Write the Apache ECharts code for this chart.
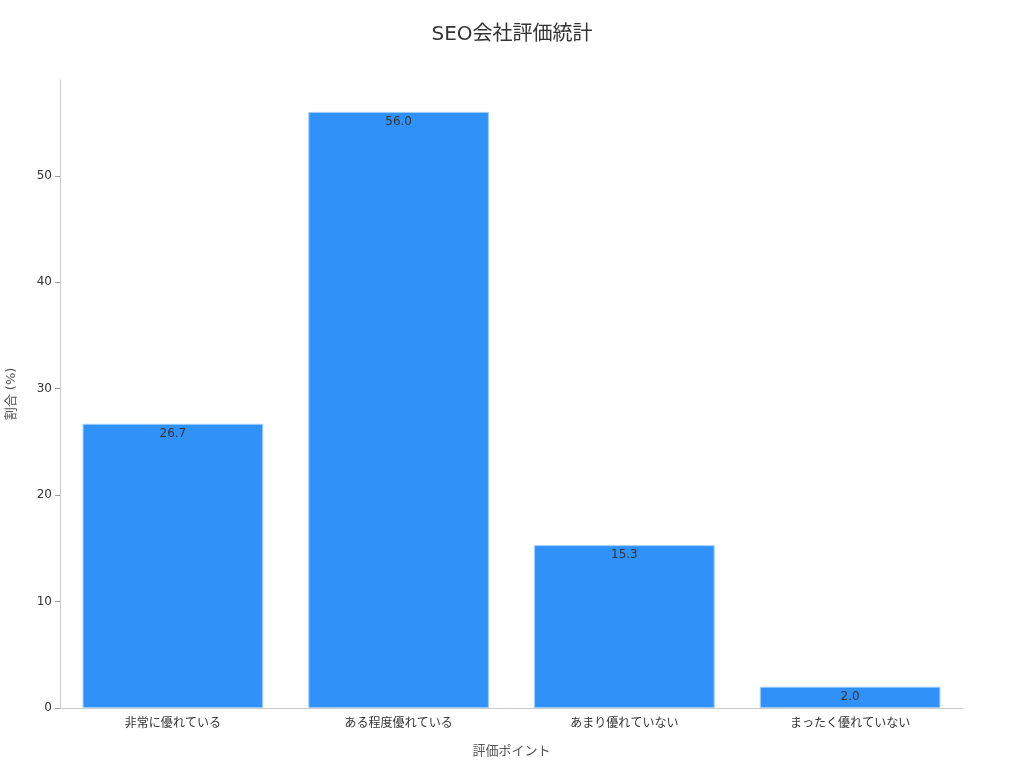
<!DOCTYPE html>
<html><head><meta charset="utf-8">
<script src="https://cdn.jsdelivr.net/npm/echarts@6/dist/echarts.min.js"></script>
<style>html,body{margin:0;padding:0;background:#fff}#c{width:1024px;height:768px}</style>
</head><body><div id="c"></div>
<script>
const categories = ['非常に優れている', 'ある程度優れている', 'あまり優れていない', 'まったく優れていない'];
const values = [26.7, 56.0, 15.3, 2.0];
const yTicks = [0, 10, 20, 30, 40, 50];
const font = 'DejaVu Sans, Noto Sans CJK JP, sans-serif';
const chart = echarts.init(document.getElementById('c'));
chart.setOption({
  backgroundColor: '#fff',
  textStyle: { fontFamily: font },
  title: { text: 'SEO会社評価統計', left: 'center', top: 20,
    textStyle: { fontSize: 20, fontWeight: 'normal', color: '#333', fontFamily: font } },
  grid: { left: 60, right: 61, top: 80, bottom: 60, containLabel: false, outerBoundsMode: 'none' },
  xAxis: {
    type: 'category', data: categories,
    name: '評価ポイント', nameLocation: 'middle', nameGap: 37,
    nameTextStyle: { fontSize: 13, color: '#555' },
    axisLine: { lineStyle: { color: '#ccc' } },
    axisTick: { alignWithLabel: true, lineStyle: { color: '#999' } },
    axisLabel: { color: '#333', fontSize: 12, margin: 10 }
  },
  yAxis: {
    type: 'value', min: 0, max: 59, interval: 10,
    name: '割合 (%)', nameLocation: 'middle', nameGap: 42,
    nameTextStyle: { fontSize: 13, color: '#555' },
    axisLine: { show: true, lineStyle: { color: '#ccc' } },
    axisTick: { show: true, customValues: yTicks, lineStyle: { color: '#999' } },
    splitLine: { show: false },
    axisLabel: { color: '#333', fontSize: 12, customValues: yTicks }
  },
  series: [{
    type: 'bar', data: values, barCategoryGap: '20%',
    itemStyle: { color: '#3092F8', borderColor: '#9cccff', borderWidth: 1 },
    label: { show: true, position: 'insideTop', distance: 4, color: '#333', fontSize: 12,
      formatter: p => p.value.toFixed(1) }
  }]
});
</script></body></html>
